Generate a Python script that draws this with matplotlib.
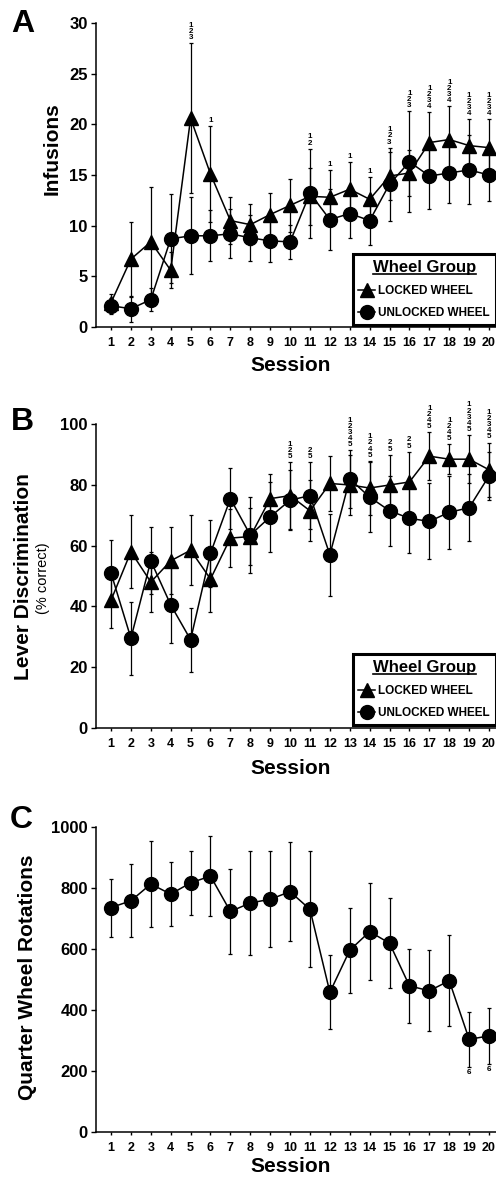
import numpy as np
import matplotlib
matplotlib.use("Agg")
import matplotlib.pyplot as plt
from matplotlib.lines import Line2D

plt.rcParams['font.family'] = ['Liberation Sans', 'DejaVu Sans']
plt.rcParams['font.weight'] = 'bold'

# ---------------- DATOS ----------------
sessions = np.arange(1, 21)

# Panel A - infusiones
A_locked = [2.4, 6.7, 8.4, 5.6, 20.6, 15.1, 10.5, 10.1, 11.1, 12.0,
            12.9, 12.8, 13.6, 12.6, 14.9, 15.2, 18.2, 18.5, 17.9, 17.7]
A_locked_err = [0.9, 3.7, 5.4, 1.8, 7.4, 4.7, 2.3, 2.0, 2.1, 2.6,
                2.8, 2.7, 2.7, 2.2, 2.4, 2.3, 3.0, 3.3, 2.6, 2.8]
A_unlocked = [2.1, 1.8, 2.7, 8.7, 9.0, 9.0, 9.2, 8.8, 8.5, 8.4,
              13.2, 10.6, 11.2, 10.5, 14.1, 16.3, 14.9, 15.2, 15.5, 15.0]
A_unlocked_err = [0.8, 1.3, 1.1, 4.4, 3.8, 2.5, 2.4, 2.3, 2.1, 1.7,
                  4.4, 3.0, 2.4, 2.4, 3.6, 5.0, 3.3, 3.0, 3.4, 2.6]
A_sig = ['', '', '', '', '123', '1', '', '', '', '',
         '12', '1', '1', '1', '123', '123', '1234', '1234', '1234', '1234']

# Panel B - discriminacion de palanca
B_locked = [42, 58, 48, 55, 58.5, 49, 62.5, 63, 75.5, 76.5,
            71.5, 80.5, 80, 79, 80, 81, 89.5, 88.5, 88.5, 85]
B_locked_err = [9, 12, 10, 11, 11.5, 11, 9.5, 9.5, 8, 11,
                10, 9, 10, 9, 10, 10, 8, 5, 8, 9]
B_unlocked = [51, 29.5, 55, 40.5, 29, 57.5, 75.5, 63.5, 69.5, 75,
              76.5, 57, 82, 76, 71.5, 69, 68, 71, 72.5, 83]
B_unlocked_err = [11, 12, 11, 12.5, 10.5, 11, 10, 12.5, 11.5, 10,
                  11, 13.5, 9.5, 11.5, 11.5, 11.5, 12.5, 12, 11, 8]
B_sig = ['', '', '', '', '', '', '', '', '', '125',
         '25', '', '12345', '1245', '25', '25', '1245', '1245', '12345', '12345']

# Panel C - rotaciones de rueda
C_rot = [735, 757, 812, 779, 816, 838, 722, 750, 762, 787,
         729, 457, 595, 656, 618, 478, 462, 495, 303, 314]
C_err = [95, 120, 140, 105, 104, 132, 138, 170, 158, 162,
         190, 121, 140, 160, 148, 122, 133, 150, 90, 92]
C_sig = ['', '', '', '', '', '', '', '', '', '',
         '', '', '', '', '', '', '', '', '6', '6']

W, H = 496, 1178
fig = plt.figure(figsize=(W / 100, H / 100), dpi=100)


def px(x, y):
    return x / W, 1 - y / H


def setup_axes(rect, ymax, ystep):
    ax = fig.add_axes(rect)
    ax.set_xlim(0.22, 20.35)
    ax.set_ylim(0, ymax)
    ax.set_xticks(sessions)
    ax.set_yticks(np.arange(0, ymax + 1, ystep))
    ax.spines['top'].set_visible(False)
    ax.spines['right'].set_visible(False)
    for s in ('left', 'bottom'):
        ax.spines[s].set_linewidth(1.1)
    ax.tick_params(axis='y', labelsize=12, length=3.5, width=1, pad=2)
    ax.tick_params(axis='x', labelsize=9, length=2.5, width=1, pad=5)
    for lbl in ax.get_xticklabels() + ax.get_yticklabels():
        lbl.set_fontweight('bold')
    return ax


def serie(ax, y, err, marker, ms):
    ax.errorbar(sessions, y, yerr=err, fmt='-', color='black', lw=1.1,
                marker=marker, ms=ms, elinewidth=0.9, capsize=1.4,
                capthick=0.9, clip_on=False, zorder=3)


def signif(ax, labels, tops, above=True):
    for x, lab, t in zip(sessions, labels, tops):
        if not lab:
            continue
        ax.annotate('\n'.join(lab), (x, t), xytext=(0, 1.5 if above else -1.5),
                    textcoords='offset points', ha='center',
                    va='bottom' if above else 'top', fontsize=5.8,
                    fontweight='bold', linespacing=0.82, annotation_clip=False)


def leyenda(ax, y0):
    handles = [Line2D([], [], color='black', lw=1.1, marker='^', ms=10),
               Line2D([], [], color='black', lw=1.1, marker='o', ms=10)]
    leg = ax.legend(handles, ['LOCKED WHEEL', 'UNLOCKED WHEEL'],
                    title='Wheel Group', loc='lower right',
                    bbox_to_anchor=(1.0, y0), borderaxespad=0,
                    prop={'size': 8.5, 'weight': 'bold'},
                    title_fontproperties={'size': 12, 'weight': 'bold'},
                    handlelength=1.4, handletextpad=0.3, labelspacing=0.85,
                    borderpad=0.5, fancybox=False, framealpha=1,
                    edgecolor='black')
    leg.get_frame().set_linewidth(2.2)
    return leg


# ---------------- PANEL A ----------------
axA = setup_axes([*px(95.5, 327), 400.5 / W, 304 / H], 30, 5)
serie(axA, A_locked, A_locked_err, '^', 10.5)
serie(axA, A_unlocked, A_unlocked_err, 'o', 10)
topsA = np.maximum(np.add(A_locked, A_locked_err), np.add(A_unlocked, A_unlocked_err))
signif(axA, A_sig, topsA)
legA = leyenda(axA, 0.007)

# ---------------- PANEL B ----------------
axB = setup_axes([*px(95.5, 727.7), 400.5 / W, 303.4 / H], 100, 20)
serie(axB, B_locked, B_locked_err, '^', 10.5)
serie(axB, B_unlocked, B_unlocked_err, 'o', 10)
topsB = np.maximum(np.add(B_locked, B_locked_err), np.add(B_unlocked, B_unlocked_err))
signif(axB, B_sig, topsB)
legB = leyenda(axB, 0.009)

# ---------------- PANEL C ----------------
axC = setup_axes([*px(95.5, 1131.7), 400.5 / W, 305 / H], 1000, 200)
serie(axC, C_rot, C_err, 'o', 10)
signif(axC, C_sig, np.subtract(C_rot, C_err), above=False)

# ---------------- TEXTOS ----------------
for letra, (x, y) in zip('ABC', [(23, 24), (22, 422), (21, 820)]):
    fig.text(*px(x, y), letra, fontsize=23, fontweight='bold', ha='center', va='center')

fig.text(*px(52, 149), 'Infusions', rotation=90, fontsize=15, fontweight='bold',
         ha='center', va='center')
fig.text(*px(24, 577), 'Lever Discrimination', rotation=90, fontsize=15,
         fontweight='bold', ha='center', va='center')
fig.text(*px(43, 578), '(% correct)', rotation=90, fontsize=10.5,
         fontweight='normal', ha='center', va='center')
fig.text(*px(28, 977), 'Quarter Wheel Rotations', rotation=90, fontsize=15,
         fontweight='bold', ha='center', va='center')
for y in (366, 768, 1167):
    fig.text(*px(291, y), 'Session', fontsize=15, fontweight='bold',
             ha='center', va='center')

# subrayado del titulo de la leyenda
fig.canvas.draw()
for leg in (legA, legB):
    bb = leg.get_title().get_window_extent().transformed(fig.transFigure.inverted())
    fig.add_artist(Line2D([bb.x0, bb.x1], [bb.y0 + 0.0008] * 2, color='black',
                          lw=1.2, transform=fig.transFigure))

fig.savefig('out.png', dpi=100)
